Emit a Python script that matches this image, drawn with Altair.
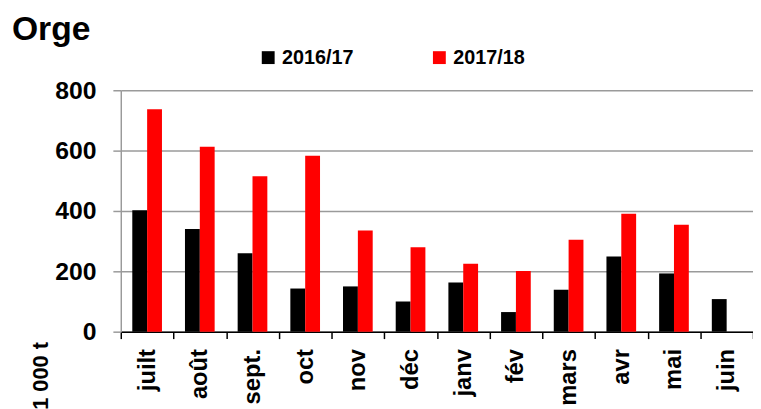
import altair as alt
import pandas as pd

months = ["juilt", "août", "sept.", "oct", "nov", "déc", "janv", "fév", "mars", "avr", "mai", "juin"]
series = ["2016/17", "2017/18"]
v1617 = [402, 340, 260, 143, 150, 100, 163, 65, 139, 249, 193, 108]
v1718 = [737, 613, 515, 583, 335, 280, 225, 201, 305, 391, 354, None]

rows = []
for m, a, b in zip(months, v1617, v1718):
    rows.append({"mois": m, "campagne": series[0], "val": a})
    if b is not None:
        rows.append({"mois": m, "campagne": series[1], "val": b})
df = pd.DataFrame(rows)

FONT = "Liberation Sans"
GRAY = "#9a9a9a"

chart = alt.Chart(df).mark_bar().encode(
    x=alt.X(
        "mois:N", sort=months,
        scale=alt.Scale(paddingInner=0, paddingOuter=0),
        axis=alt.Axis(
            title=None, labelAngle=270, labelFont=FONT, labelFontSize=24,
            labelFontWeight="bold", labelColor="black", domainColor="black",
            domainWidth=1.5, tickColor="black", tickSize=7, tickWidth=1.5,
            tickBand="extent", labelPadding=10, grid=False,
        ),
    ),
    xOffset=alt.XOffset(
        "campagne:N", sort=series,
        scale=alt.Scale(paddingInner=0, paddingOuter=0.775),
    ),
    y=alt.Y(
        "val:Q", scale=alt.Scale(domain=[0, 800]),
        axis=alt.Axis(
            values=[0, 200, 400, 600, 800], title="1 000 t", titleAngle=270,
            titleX=-74, titleY=254, titleAlign="right", titleBaseline="alphabetic",
            titleFont=FONT, titleFontSize=22, titleFontWeight="bold", titleColor="black",
            labelFont=FONT, labelFontSize=25, labelFontWeight="bold", labelColor="black",
            labelPadding=17, tickSize=8, tickColor=GRAY, tickWidth=1.5,
            domainColor=GRAY, domainWidth=1.5, gridColor=GRAY, gridWidth=1.5,
        ),
    ),
    color=alt.Color(
        "campagne:N", sort=series,
        scale=alt.Scale(domain=series, range=["#000000", "#ff0000"]),
        legend=alt.Legend(
            title=None, orient="none", legendX=139, legendY=-43,
            direction="horizontal", symbolType="square", symbolSize=169,
            symbolStrokeWidth=0, labelFont=FONT, labelFontSize=20,
            labelFontWeight="bold", labelColor="black", labelOffset=4,
            columnPadding=76,
        ),
    ),
).properties(
    width=639, height=244,
    title=alt.Title(
        "Orge", anchor="start", frame="group", font=FONT, fontSize=34,
        fontWeight="bold", color="black", dx=-110, offset=0,
        baseline="alphabetic", dy=26,
    ),
    padding={"left": 114, "top": 81, "right": 0, "bottom": 76},
    autosize=alt.AutoSizeParams(type="none"),
).configure_view(stroke=None)

chart.save("out.html", embed_options={"renderer": "svg", "actions": False})
